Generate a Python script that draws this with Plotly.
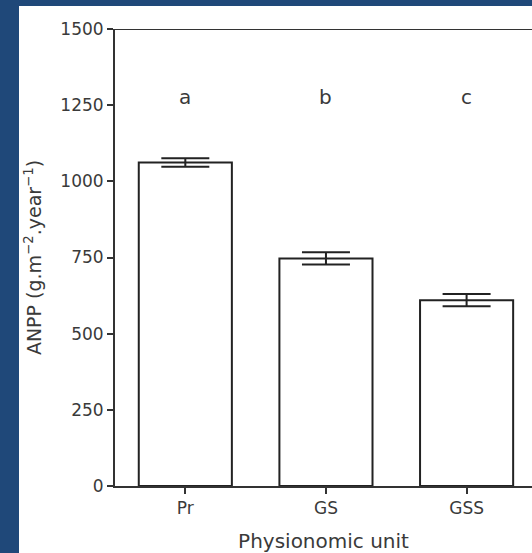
import plotly.graph_objects as go

categories = ["Pr", "GS", "GSS"]
anpp = [1062, 747, 610]
anpp_se = [14, 20, 20]
letters = ["a", "b", "c"]
letter_y = [1278, 1278, 1278]
y_ticks = [0, 250, 500, 750, 1000, 1250, 1500]

FONT = "DejaVu Sans, Liberation Sans, Arial, sans-serif"
INK = "#3a3a3a"

fig = go.Figure()
fig.add_trace(go.Bar(
    x=categories, y=anpp, width=0.662,
    marker=dict(color="white", line=dict(color="#222222", width=2)),
    error_y=dict(type="data", array=anpp_se, visible=True, color="#222222",
                 thickness=2, width=24),
    showlegend=False,
))

for c, l, ly in zip(categories, letters, letter_y):
    fig.add_annotation(x=c, y=ly, text=l, showarrow=False,
                       font=dict(family=FONT, size=20, color=INK))

# white panel over blue frame
fig.add_shape(type="rect", xref="paper", yref="paper",
              x0=-96/417, x1=1.0, y0=-67/457, y1=1 + 23/457,
              fillcolor="white", line=dict(width=0), layer="below")
# top frame line
fig.add_shape(type="line", xref="paper", yref="y", x0=0, x1=1, y0=1500, y1=1500,
              line=dict(color="#333333", width=2))

fig.update_layout(
    width=532, height=553,
    margin=dict(l=115, r=0, t=29, b=67),
    paper_bgcolor="#1f4879",
    plot_bgcolor="white",
    font=dict(family=FONT, color=INK),
)
fig.update_xaxes(
    range=[-0.5, 2.465],
    showline=True, linecolor="#333333", linewidth=2,
    ticks="outside", ticklen=6, tickwidth=2, tickcolor="#333333",
    tickfont=dict(family=FONT, size=17, color=INK),
    title=dict(text="Physionomic unit", font=dict(family=FONT, size=20, color=INK), standoff=17),
    showgrid=False, zeroline=False,
)
fig.update_yaxes(
    range=[0, 1500], tickvals=y_ticks,
    showline=True, linecolor="#333333", linewidth=2,
    ticks="outside", ticklen=6, tickwidth=2, tickcolor="#333333",
    tickfont=dict(family=FONT, size=17, color=INK),
    title=dict(text="ANPP (g.m<sup>−2</sup>.year<sup>−1</sup>)",
               font=dict(family=FONT, size=19, color=INK), standoff=14),
    showgrid=False, zeroline=False,
)

fig.write_html("out.html", config={"displayModeBar": False},
               post_script="document.body.style.margin='0';document.body.style.overflow='hidden';")
